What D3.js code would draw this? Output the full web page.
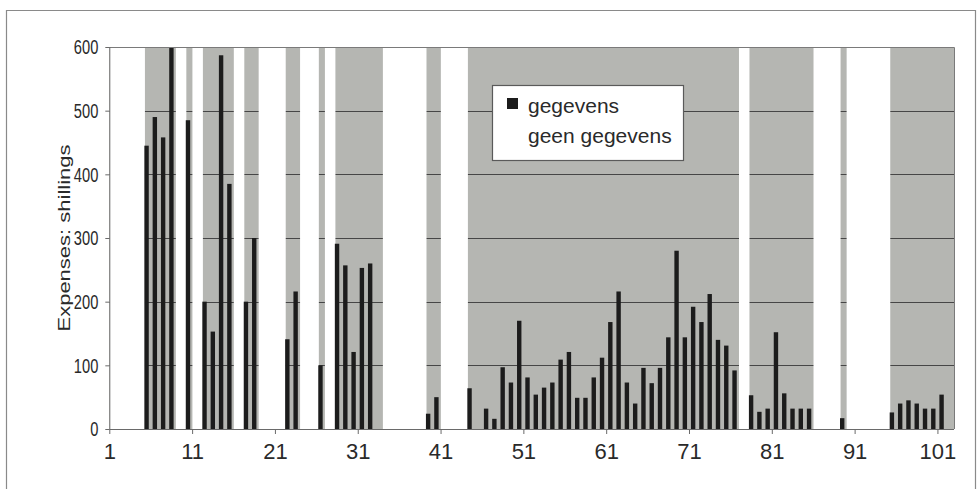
<!DOCTYPE html>
<html><head><meta charset="utf-8">
<script src="https://cdn.jsdelivr.net/npm/d3@7"></script>
<style>body{margin:0;background:#fff}</style>
</head><body>
<svg id="c" width="977" height="489"></svg>
<script>
// ---- data ----
const categories = d3.range(1, 103);
// null = geen gegevens (no data), number = gegevens (expenses in shillings)
const expenses = [
  null,null,null,null,445,490,458,600,null,485,
  null,200,153,587,385,null,200,300,null,null,
  null,141,216,null,null,100,null,291,257,121,
  253,260,0,null,null,null,null,null,24,50,
  null,null,null,64,0,32,16,97,73,170,
  81,54,65,73,109,121,49,49,81,112,
  168,216,73,40,96,72,96,144,280,144,
  192,168,212,140,131,92,null,53,27,32,
  152,56,32,32,32,null,null,null,17,null,
  null,null,null,null,26,40,45,40,32,32,
  54,0];
const xTickLabels = [1,11,21,31,41,51,61,71,81,91,101];
const yTicks = [0,100,200,300,400,500,600];
const legendLabels = ["gegevens","geen gegevens"];
const yTitle = "Expenses: shillings";

// ---- layout ----
const L = 109.3, R = 954, T = 47, B = 429;
const svg = d3.select("#c");
const font = "'Liberation Sans', Arial, sans-serif";

const x = d3.scaleBand().domain(categories).range([L, R]).paddingInner(0).paddingOuter(0);
const w = x.bandwidth();
const xt = d3.scaleLinear().domain([1, categories.length + 1]).range([L, R]);
const y = d3.scaleLinear().domain([0, 600]).range([B, T]);

const data = categories.map((c, i) => ({c, v: expenses[i]}));

// outer frame
svg.append("path").attr("d", `M6.5,489 V10.5 H975.5 V489`).attr("fill","none").attr("stroke","#8a8a8a").attr("stroke-width",1.2);

svg.append("clipPath").attr("id","pc").append("rect").attr("x",L).attr("y",T).attr("width",R-L).attr("height",B-T);

// plot background (gegevens)
svg.append("rect").attr("x",L).attr("y",T).attr("width",R-L).attr("height",B-T).attr("fill","#b5b6b2");

// gridlines
svg.append("g").selectAll("line").data(yTicks.filter(t => t > 0)).join("line")
  .attr("x1",L).attr("x2",R).attr("y1",d=>Math.round(y(d))+0.5).attr("y2",d=>Math.round(y(d))+0.5)
  .attr("stroke","#464646").attr("stroke-width",1.2);

// white columns: geen gegevens
const pg = svg.append("g").attr("clip-path","url(#pc)");
pg.selectAll("rect.nd").data(data.filter(d => d.v === null)).join("rect")
  .attr("class","nd")
  .attr("x", d => x(d.c) + 0.3)
  .attr("width", w + 2.2)
  .attr("y", y(600)).attr("height", y(0) - y(600))
  .attr("fill","#ffffff");

// black bars: gegevens
const bw = 4.4;
pg.selectAll("rect.bar").data(data.filter(d => d.v !== null && d.v > 0)).join("rect")
  .attr("class","bar")
  .attr("x", d => x(d.c) + w/2 - bw/2)
  .attr("width", bw)
  .attr("y", d => y(d.v)).attr("height", d => y(0) - y(d.v))
  .attr("fill","#1c1c1c");

// plot border (top, right)
svg.append("path").attr("d",`M${L},${T+0.5} H${R+0.5} V${B}`).attr("fill","none").attr("stroke","#7a7a7a").attr("stroke-width",1);

// axes
const xAxis = d3.axisBottom(xt).tickValues(xTickLabels).tickFormat(d3.format("d")).tickSize(5).tickPadding(9);
const gx = svg.append("g").attr("transform",`translate(0,${B})`).call(xAxis);
gx.select(".domain").attr("stroke","#6a6a6a").attr("d",`M${L},0.5H${R}`);
gx.selectAll(".tick line").attr("stroke","#6a6a6a");
gx.selectAll("text").attr("font-family",font).attr("font-size",22).attr("fill","#2a2a2a");

const yAxis = d3.axisLeft(y).tickValues(yTicks).tickSize(4).tickPadding(12);
const gy = svg.append("g").attr("transform",`translate(${L},0)`).call(yAxis);
gy.select(".domain").attr("stroke","#6a6a6a").attr("d",`M0.5,${T}V${B}`);
gy.selectAll(".tick line").attr("stroke","#6a6a6a");
gy.selectAll("text").attr("font-family",font).attr("font-size",21).attr("fill","#2a2a2a")
  .attr("x",0).attr("transform","translate(-11,0) scale(0.7,1)");

// y title (condensed across glyph height)
svg.append("text").attr("transform",`translate(70,${(T+B)/2}) rotate(-90) scale(1,0.75)`)
  .attr("text-anchor","middle").attr("font-family",font).attr("font-size",22).attr("fill","#2a2a2a")
  .text(yTitle);

// legend
const lg = svg.append("g");
lg.append("rect").attr("x",492.5).attr("y",85.5).attr("width",191).attr("height",75)
  .attr("fill","#ffffff").attr("stroke","#5a5a5a").attr("stroke-width",1.2);
const legendFill = ["#1c1c1c","#ffffff"];
legendLabels.forEach((t,i) => {
  lg.append("rect").attr("x",507).attr("y",98 + i*30).attr("width",11).attr("height",11).attr("fill",legendFill[i]);
  lg.append("text").attr("x",528).attr("y",113 + i*30).attr("font-family",font).attr("font-size",21)
    .attr("fill","#2a2a2a").text(t);
});
</script>
</body></html>
